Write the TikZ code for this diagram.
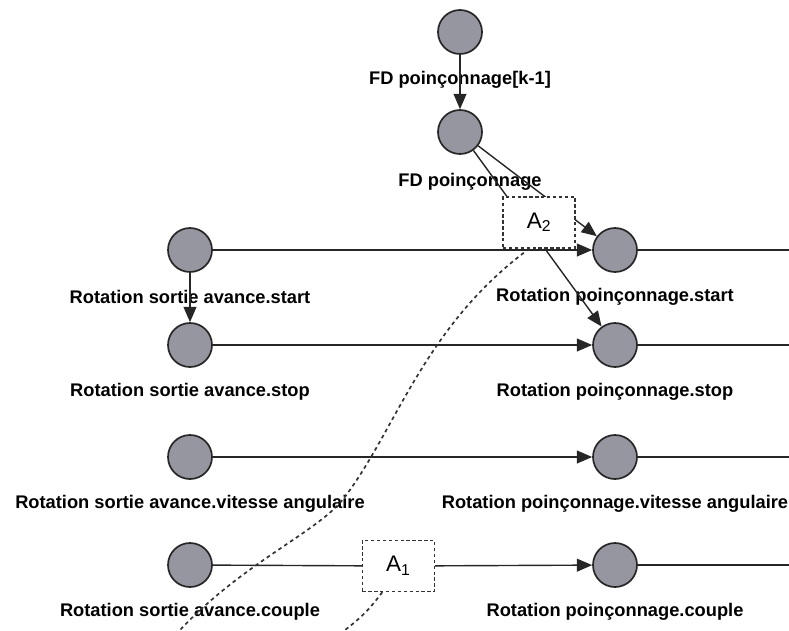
\documentclass[tikz,border=0pt]{standalone}
\usepackage{fontspec}
\setmainfont{Liberation Sans}
\usepackage{xcolor}
\usepackage{tikz}
\usetikzlibrary{arrows.meta,positioning,calc}
\definecolor{placegray}{RGB}{150,150,160}
\tikzset{
  place/.style={circle,draw=black!85,fill=placegray,line width=1.2pt,minimum size=11mm,inner sep=0pt},
  lab/.style={font=\fontsize{13}{15}\selectfont\bfseries},
  arcs/.style={line width=1pt,black!85},
  arcto/.style={arcs,-{Triangle[length=3.8mm,width=3.2mm]}},
  block/.style={rectangle,draw=black!80,dash pattern=on 2.4pt off 1.8pt,fill=white,line width=.9pt,minimum width=18mm,minimum height=12.75mm,inner sep=0pt,font=\fontsize{16}{18}\selectfont},
  dep/.style={line width=1.2pt,dash pattern=on 2.6pt off 2.4pt,black!80}
}
\begin{document}
\begin{tikzpicture}
  \useasboundingbox (0,0) rectangle (19.725,15.75);
  \node[place] (fdprev) at (11.5,14.95) {};
  \node[place] (fd) at (11.5,12.45) {};
  \node[lab] at (11.5,13.75) {FD poinçonnage[k-1]};
  \node[lab] at (11.75,11.2) {FD poinçonnage};
  \node[place] (sas) at (4.75,9.5) {};
  \node[place] (sat) at (4.75,7.125) {};
  \node[place] (sav) at (4.75,4.325) {};
  \node[place] (sac) at (4.75,1.625) {};
  \node[place] (rps) at (15.375,9.5) {};
  \node[place] (rpt) at (15.375,7.125) {};
  \node[place] (rpv) at (15.375,4.325) {};
  \node[place] (rpc) at (15.375,1.625) {};
  \node[lab] at (4.75,8.325) {Rotation sortie avance.start};
  \node[lab] at (4.75,5.95) {Rotation sortie avance.stop};
  \node[lab] at (4.75,3.15) {Rotation sortie avance.vitesse angulaire};
  \node[lab] at (4.75,0.45) {Rotation sortie avance.couple};
  \node[lab] at (15.375,8.325) {Rotation poinçonnage.start};
  \node[lab] at (15.375,5.95) {Rotation poinçonnage.stop};
  \node[lab] at (15.375,3.15) {Rotation poinçonnage.vitesse angulaire};
  \node[lab] at (15.375,0.45) {Rotation poinçonnage.couple};
  \coordinate (es) at (19.725,9.5);
  \coordinate (et) at (19.725,7.125);
  \coordinate (ev) at (19.725,4.325);
  \coordinate (ec) at (19.725,1.625);
  \coordinate (tailA) at (4.5,0);
  \coordinate (tailB) at (8.625,0);
  \node[block] (Aone) at (9.96,1.6) {A\textsubscript{1}};
  \draw[arcto] (fdprev)--(fd);
  \draw[arcto] (sas)--(sat);
  \draw[arcto] (sas)--(rps);
  \draw[arcto] (sat)--(rpt);
  \draw[arcto] (sav)--(rpv);
  \draw[arcs] (sac)--(Aone);
  \draw[arcto] (Aone)--(rpc);
  \draw[arcs] (rps)--(es);
  \draw[arcs] (rpt)--(et);
  \draw[arcs] (rpv)--(ev);
  \draw[arcs] (rpc)--(ec);
  \draw[arcto] (fd)--(rps);
  \draw[arcto] (fd)--(rpt);
  \node[block] (Atwo) at (13.475,10.19) {A\textsubscript{2}};
  \draw[dep] ($(Atwo.south west)!0.37!(Atwo.south east)$) .. controls (10.6,7.6) and (9.9,5.0) .. (8.6,3.3)
    .. controls (7.95,2.45) and (6.1,1.7) .. (tailA);
  \draw[dep] ($(Aone.south west)!0.28!(Aone.south east)$) to[bend left=8] (tailB);
\end{tikzpicture}
\end{document}
